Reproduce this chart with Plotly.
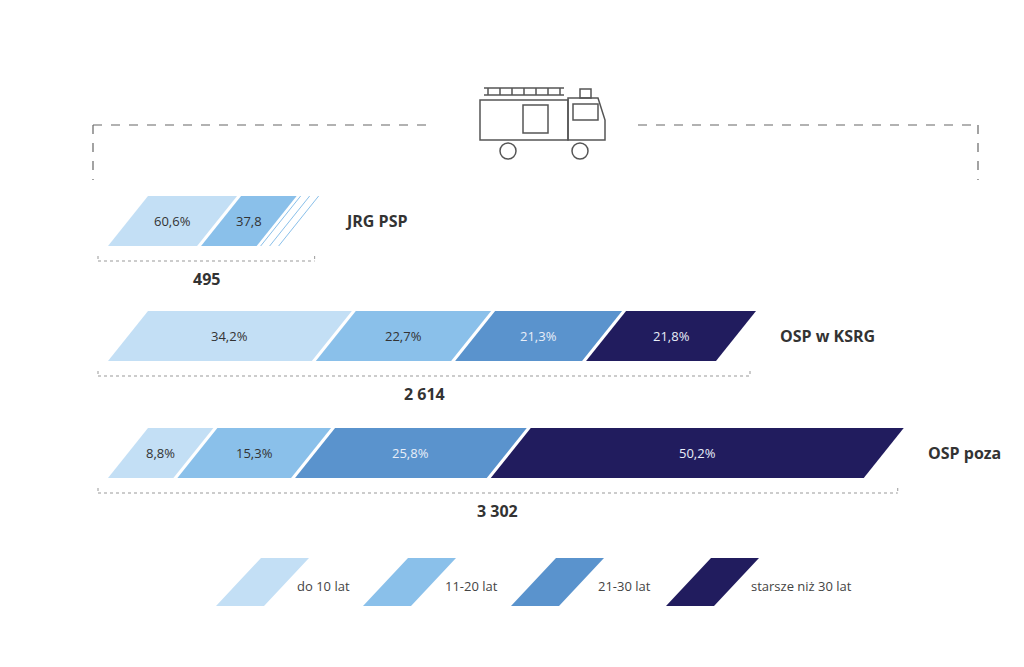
import plotly.graph_objects as go

# ---- data ----
rows = ["JRG PSP", "OSP w KSRG", "OSP poza"]
totals = ["495", "2 614", "3 302"]
shares = [
    [60.6, 37.8, 1.6],
    [34.2, 22.7, 21.3, 21.8],
    [8.8, 15.3, 25.8, 50.2],
]
share_labels = [
    ["60,6%", "37,8", ""],
    ["34,2%", "22,7%", "21,3%", "21,8%"],
    ["8,8%", "15,3%", "25,8%", "50,2%"],
]
legend_labels = ["do 10 lat", "11-20 lat", "21-30 lat", "starsze niż 30 lat"]
colors = ["#c3dff5", "#8ac0ea", "#5a93cd", "#211c5e"]
text_colors = ["#333333", "#333333", "#e8eef8", "#e8eef8"]

# ---- layout params (pixel-like space) ----
row_top = [188, 303, 420]
row_h = 50
row_len = [195, 648, 795]
x0 = 100
skew = 40
gap = 4

fig = go.Figure()

def para(xb0, xb1, yt, yb, color, s=skew):
    fig.add_trace(go.Scatter(
        x=[xb0, xb1, xb1 + s, xb0 + s, xb0], y=[yb, yb, yt, yt, yb],
        fill="toself", fillcolor=color, mode="none", hoverinfo="skip", showlegend=False))

ann = []
for r, name in enumerate(rows):
    yt, yb = row_top[r], row_top[r] + row_h
    n = len(shares[r])
    avail = row_len[r] - skew - gap * (n - 1)
    cur = x0
    for i, p in enumerate(shares[r]):
        w = p / 100 * avail
        if r == 0 and i == 2:
            # thin hatched remainder
            for k in range(3):
                xs = cur + k * 9
                fig.add_trace(go.Scatter(x=[xs, xs + skew], y=[yb, yt], mode="lines",
                                         line=dict(color=colors[1], width=1),
                                         hoverinfo="skip", showlegend=False))
            cur += 24
            continue
        para(cur, cur + w, yt, yb, colors[i])
        ann.append(dict(x=cur + w / 2 + skew / 2, y=(yt + yb) / 2, text=share_labels[r][i],
                        showarrow=False, font=dict(size=13, color=text_colors[i],
                                                   family="Open Sans")))
        cur += w + gap
    end = cur + skew
    ann.append(dict(x=end + 18, y=(yt + yb) / 2, text="<b>" + name + "</b>", xanchor="left",
                    showarrow=False, font=dict(size=16, color="#333", family="Open Sans")))
    # dashed underline
    ly = yb + 15
    lx1 = end - 10
    fig.add_shape(type="line", x0=90, x1=lx1, y0=ly, y1=ly,
                  line=dict(color="#999", width=1, dash="dot"))
    for xx in (90, lx1):
        fig.add_shape(type="line", x0=xx, x1=xx, y0=ly - 5, y1=ly,
                      line=dict(color="#999", width=1, dash="dot"))
    ann.append(dict(x=(90 + lx1) / 2, y=ly + 18, text="<b>" + totals[r] + "</b>",
                    showarrow=False, font=dict(size=16, color="#333", family="Open Sans")))

# legend
leg_x = [208, 355, 503, 658]
leg_tx = [315, 463, 616, 793]
for i, lab in enumerate(legend_labels):
    para(leg_x[i], leg_x[i] + 48, 550, 598, colors[i], s=45)
    ann.append(dict(x=leg_tx[i], y=578, text=lab, showarrow=False,
                    font=dict(size=13, color="#444", family="Open Sans")))

# top bracket
dash = dict(color="#666", width=1.2, dash="dash")
for (a, b, c, d) in [(85, 117, 425, 117), (630, 117, 970, 117), (85, 117, 85, 172), (970, 117, 970, 172)]:
    fig.add_shape(type="line", x0=a, y0=b, x1=c, y1=d, line=dash)

# truck icon
tl = dict(color="#555", width=1.5)
fig.add_shape(type="rect", x0=472, x1=560, y0=92, y1=132, line=tl)
fig.add_shape(type="path", path="M 560 132 L 560 90 L 590 90 L 597 112 L 597 132 Z", line=tl)
fig.add_shape(type="rect", x0=565, x1=590, y0=96, y1=112, line=tl)
fig.add_shape(type="rect", x0=572, x1=583, y0=81, y1=90, line=tl)
fig.add_shape(type="rect", x0=515, x1=540, y0=97, y1=125, line=tl)
fig.add_shape(type="line", x0=476, x1=556, y0=80, y1=80, line=tl)
fig.add_shape(type="line", x0=476, x1=556, y0=87, y1=87, line=tl)
for xx in range(480, 557, 12):
    fig.add_shape(type="line", x0=xx, x1=xx, y0=80, y1=87, line=tl)
for cx in (500, 572):
    fig.add_shape(type="circle", x0=cx - 8, x1=cx + 8, y0=135, y1=151, line=tl, fillcolor="white")

fig.update_layout(
    width=1024, height=667, margin=dict(l=0, r=0, t=0, b=0),
    plot_bgcolor="white", paper_bgcolor="white", showlegend=False,
    xaxis=dict(range=[0, 1024], visible=False, fixedrange=True),
    yaxis=dict(range=[667, 0], visible=False, fixedrange=True),
    annotations=ann,
)
fig.write_html("out.html")
